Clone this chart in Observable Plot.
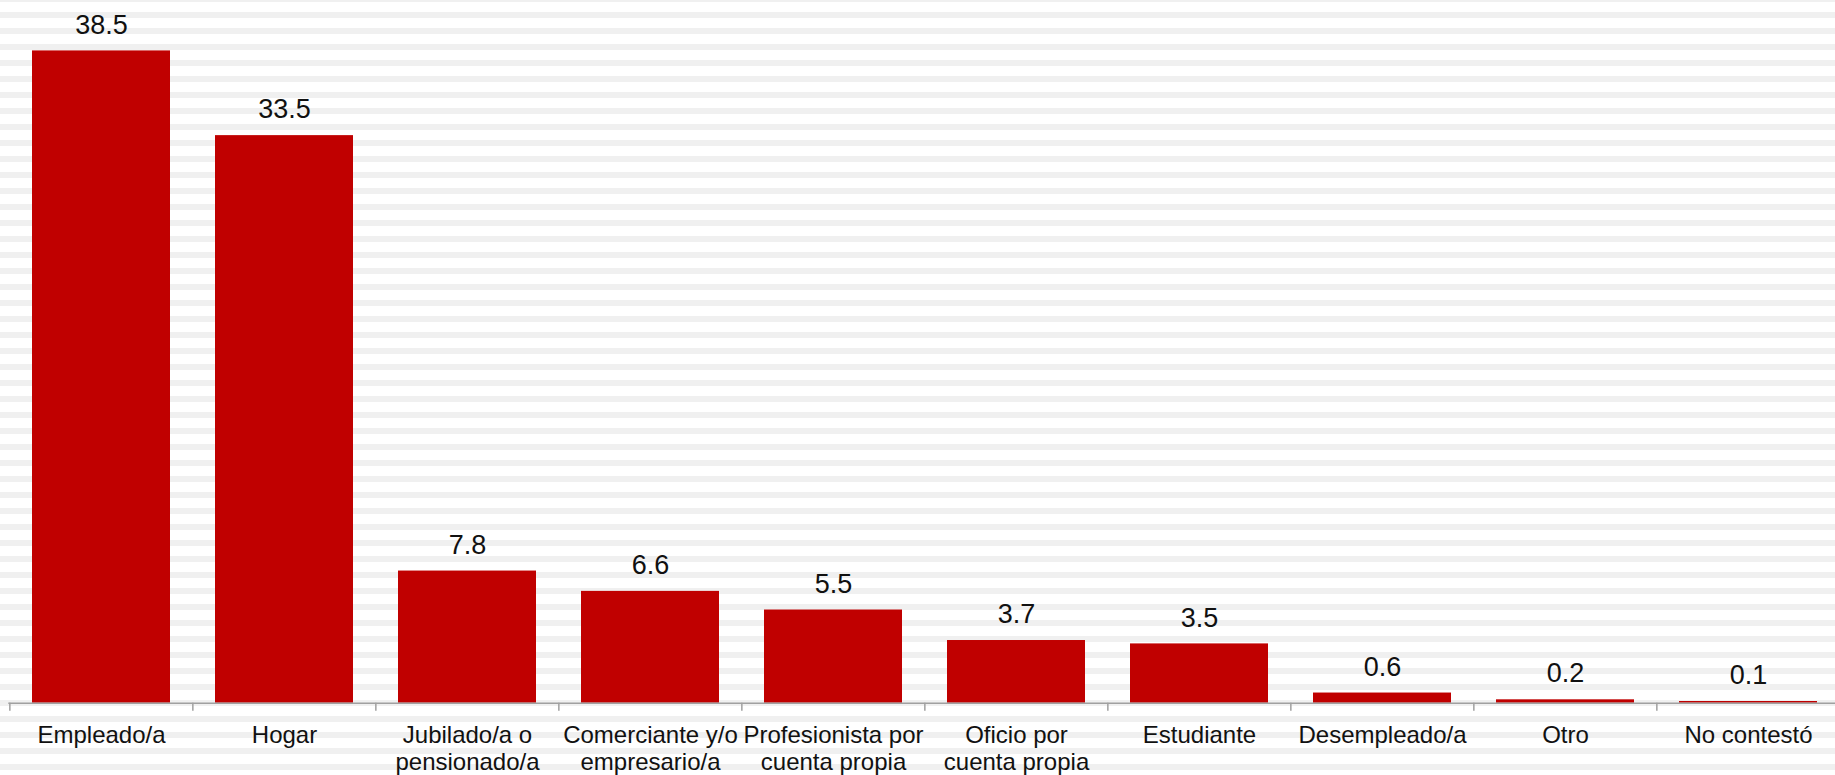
<!DOCTYPE html>
<html><head><meta charset="utf-8">
<script src="https://cdn.jsdelivr.net/npm/d3@7"></script>
<script src="https://cdn.jsdelivr.net/npm/@observablehq/plot@0.6"></script>
<style>
html{margin:0;padding:0;width:1835px;height:775px;overflow:hidden;
background: repeating-linear-gradient(to bottom,#f0f0f0 0px,#f0f0f0 1.7px,#ffffff 1.7px,#ffffff 12px,#f0f0f0 12px,#f0f0f0 16px);}
body{margin:0;padding:0;width:1835px;height:775px;overflow:hidden;background:transparent;}
svg{display:block;background:transparent !important;}
</style></head><body><div id="chart"></div>
<script>
const categories = ["Empleado/a","Hogar","Jubilado/a o\npensionado/a","Comerciante y/o\nempresario/a","Profesionista por\ncuenta propia","Oficio por\ncuenta propia","Estudiante","Desempleado/a","Otro","No contestó"];
const values = [38.5,33.5,7.8,6.6,5.5,3.7,3.5,0.6,0.2,0.1];
const valueLabels = ["38.5","33.5","7.8","6.6","5.5","3.7","3.5","0.6","0.2","0.1"];

const data = categories.map((c, i) => ({cat: c, value: values[i], label: valueLabels[i]}));

const W = 1835, H = 775, ML = 8.3, MR = -6.3, MT = 25, MB = 72.3;
const step = (W - ML - MR) / categories.length;
const FONT = "'Liberation Sans', Arial, Helvetica, sans-serif";

const chart = Plot.plot({
  width: W, height: H,
  marginLeft: ML, marginRight: MR, marginTop: MT, marginBottom: MB,
  style: {background: "transparent", fontFamily: FONT, color: "#111", overflow: "hidden"},
  x: {domain: categories, paddingInner: 0.247, paddingOuter: 0.1235, label: null},
  y: {domain: [0, 40], axis: null},
  marks: [
    Plot.barY(data, {x: "cat", y: "value", fill: "#c00000"}),
    Plot.ruleY([0], {stroke: "#a0a0a0", strokeWidth: 1.5}),
    Plot.ruleX(categories, {x: d => d, y1: 0, y2: 0, insetBottom: -8, dx: -step / 2, stroke: "#a0a0a0", strokeWidth: 1.5}),
    Plot.axisX({tickSize: 0, tickPadding: 20, fontSize: 24, lineHeight: 1.15, label: null, fill: "#111"}),
    Plot.text(data, {x: "cat", y: "value", text: "label", dy: -26, fontSize: 27, fill: "#111"})
  ]
});
document.getElementById("chart").appendChild(chart);
</script>
</body></html>
